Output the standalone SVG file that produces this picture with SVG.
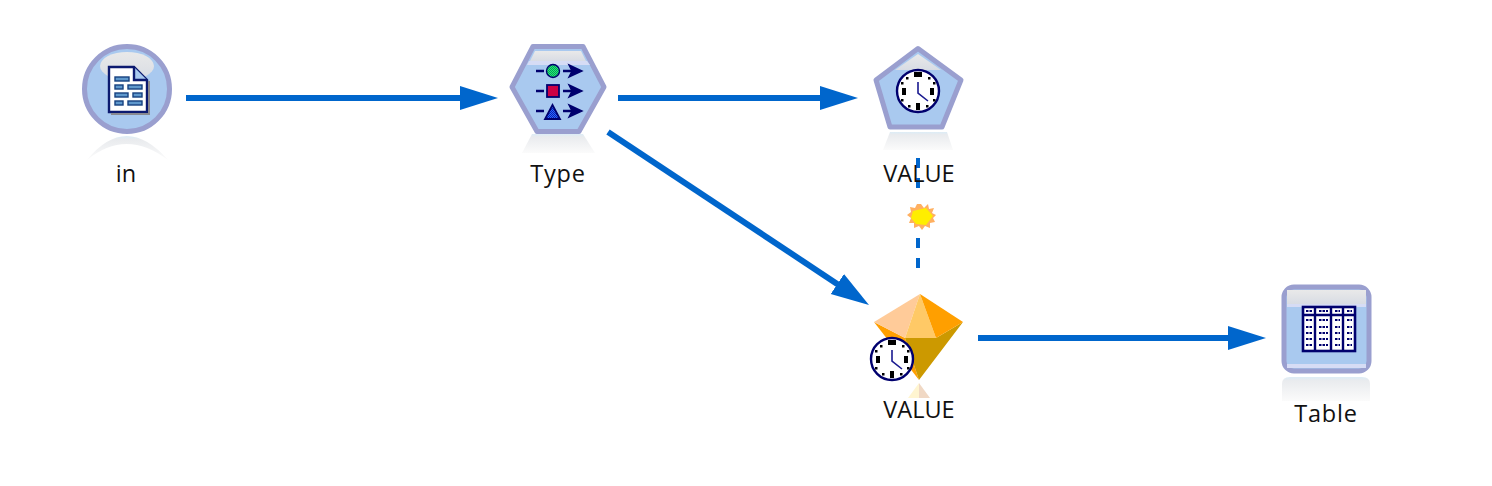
<svg xmlns="http://www.w3.org/2000/svg" xmlns:xlink="http://www.w3.org/1999/xlink" width="1492" height="486" viewBox="0 0 1492 486">
<style>
text{font-family:"Open Sans","Noto Sans","DejaVu Sans",sans-serif;font-size:23.5px;fill:#111;text-anchor:middle}
.wide{letter-spacing:.8px}
.edge{fill:none;stroke:#0066cc;stroke-width:6}
.dash{fill:none;stroke:#0066cc;stroke-width:4;stroke-dasharray:10 10 10 50 10 10}
.body{fill:#a9c9ef;stroke:#9a9fcf;stroke-width:5;stroke-linejoin:round}
.ink{fill:#00006e;stroke:#00006e;stroke-width:1.4}
.ic{stroke:#00006e;stroke-width:2.6;fill:none}
.mark{stroke:#00006e;stroke-width:2}
</style>
<defs>
<marker id="arrow" markerUnits="userSpaceOnUse" markerWidth="40" markerHeight="26" refX="26" refY="13" orient="auto">
<path d="M0 1L38 13L0 25z" fill="#0066cc"/>
</marker>
<linearGradient id="refl" x1="0" y1="0" x2="0" y2="1">
<stop offset="0" stop-color="#dcecf6"/><stop offset=".15" stop-color="#e9ebee"/><stop offset="1" stop-color="#fbfbfb"/>
</linearGradient>
<linearGradient id="gloss" x1="0" y1="0" x2="0" y2="1">
<stop offset="0" stop-color="#e9e9e9"/><stop offset="1" stop-color="#d8dce4"/>
</linearGradient>
<pattern id="green" width="2" height="2" patternUnits="userSpaceOnUse"><rect width="2" height="2" fill="#22ee77"/><rect width="1" height="1" fill="#089a55"/><rect x="1" y="1" width="1" height="1" fill="#089a55"/></pattern>
<pattern id="blue" width="2" height="2" patternUnits="userSpaceOnUse"><rect width="2" height="2" fill="#2a66ff"/><rect width="1" height="1" fill="#0a20b0"/><rect x="1" y="1" width="1" height="1" fill="#0a20b0"/></pattern>
<g id="clock">
<circle r="21" fill="#fff" stroke="#00006e" stroke-width="2.4"/>
<g fill="#000">
<rect x="-4" y="-19" width="8" height="5"/><rect x="-2" y="12" width="4" height="7"/>
<rect x="-16" y="-3" width="4" height="7"/><rect x="12" y="-3" width="4" height="7"/>
<rect x="-12" y="-14" width="2.5" height="2.5"/><rect x="10" y="-14" width="2.5" height="2.5"/>
<rect x="-17" y="-9" width="2.5" height="2.5"/><rect x="15" y="-9" width="2.5" height="2.5"/>
<rect x="-17" y="8" width="2.5" height="2.5"/><rect x="15" y="8" width="2.5" height="2.5"/>
<rect x="-10" y="14" width="2.5" height="2.5"/><rect x="8" y="14" width="2.5" height="2.5"/>
</g>
<path d="M0 -9V2L10 10" fill="none" stroke="#1a1a90" stroke-width="1.6"/>
</g>
</defs>
<g id="connectors">
<path class="edge" d="M186 98H486" marker-end="url(#arrow)"/>
<path class="edge" d="M618 98H846" marker-end="url(#arrow)"/>
<path class="edge" d="M608 132L859 298.4" marker-end="url(#arrow)"/>
<path class="edge" d="M978 338H1254" marker-end="url(#arrow)"/>
<path class="dash" d="M918 158V268"/>
</g>
<g id="node-in">
<path d="M87 160Q126 112 168 160Q126 128 87 160z" fill="url(#refl)"/>
<circle class="body" cx="127" cy="89" r="42.5"/>
<ellipse cx="127" cy="66" rx="27" ry="14" fill="url(#gloss)"/>
<path d="M109 67H134L147 80V112H109z" fill="#fff" stroke="#0c1a70" stroke-width="2.4"/>
<path d="M134 67V80H147" fill="#a9c9ef" stroke="#0c1a70" stroke-width="2.4"/>
<path d="M111 114H149V81" fill="none" stroke="#8a8a90" stroke-width="2"/>
<g fill="#5f98cc" stroke="#16407f" stroke-width="1.4">
<rect x="115" y="77" width="14" height="4"/><rect x="115" y="85" width="8" height="4"/><rect x="128" y="85" width="14" height="4"/>
<rect x="115" y="93" width="13" height="4"/><rect x="133" y="93" width="9" height="4"/><rect x="115" y="101" width="8" height="4"/><rect x="128" y="101" width="14" height="4"/>
</g>
<text x="126" y="182">in</text>
</g>
<g id="node-type">
<path d="M532 134H583L595 153H522z" fill="url(#refl)"/>
<path class="body" d="M533 46.5H583L604 87L579 131.5H537L512 87z"/>
<path d="M535 51H581L586 61H530z" fill="url(#gloss)"/>
<path d="M529 61H587L590 65H527z" fill="#d6dcf5"/>
<g class="ic">
<path d="M536 71H544M536 91H544M536 111H544"/>
<path d="M563 71H578M563 91H578M563 111H578"/>
</g>
<path class="ink" d="M569 65L582 71L569 77L572 71zM569 85L582 91L569 97L572 91zM569 105L582 111L569 117L572 111z"/>
<circle cx="553" cy="71" r="6.5" fill="url(#green)" stroke="#00006e" stroke-width="1.4"/>
<rect x="547" y="85" width="12" height="12" fill="#cc0044" stroke="#00006e" stroke-width="1.8"/>
<path d="M552.5 105L560 119H545z" fill="url(#blue)" stroke="#00006e" stroke-width="1.8"/>
<text class="wide" x="558" y="182">Type</text>
</g>
<g id="node-value-time">
<path d="M890 132H947L953 150H883z" fill="url(#refl)"/>
<path class="body" d="M918 48.5L961 80L942 127H890L876 80z"/>
<path d="M918 54L941 70H895z" fill="url(#gloss)"/>
<use xlink:href="#clock" href="#clock" x="918" y="91"/>
<text x="919" y="182">VALUE</text>
</g>
<g id="node-star">
<path d="M921 204L924 208L928 204L929 209L934 208L932 213L936 215L933 218L935 222L930 223L930 228L925 226L922 230L919 226L914 228L914 223L909 223L911 218L907 215L911 212L910 207L915 208L917 204z" fill="#ffb060"/>
<path d="M913 211L926 208L933 216L926 225L916 224L911 218z" fill="#ffee00"/>
</g>
<g id="node-value-model">
<path d="M919 383L908 398H919z" fill="#fff5d0"/>
<path d="M919 383L930 398H919z" fill="#f0d8c4"/>
<path d="M874 322L905 338L919 380z" fill="#ff9f00"/>
<path d="M905 338H936L963 322L919 380z" fill="#cc9900"/>
<path d="M920 294L874 322L905 338z" fill="#ffcb99"/>
<path d="M920 294L905 338H936z" fill="#ffc966"/>
<path d="M920 294L963 322L936 338z" fill="#ff9f00"/>
<use xlink:href="#clock" href="#clock" x="892" y="359"/>
<text x="919" y="418">VALUE</text>
</g>
<g id="node-table">
<path d="M1282 384Q1282 377 1290 377H1362Q1370 377 1370 384V401H1282z" fill="url(#refl)"/>
<rect class="body" x="1284" y="287" width="85" height="84" rx="10"/>
<rect x="1287" y="290" width="79" height="14" fill="url(#gloss)"/>
<rect x="1287" y="304" width="79" height="3" fill="#d6dcf5"/>
<rect x="1287" y="364" width="79" height="4" fill="#d6dcf5"/>
<rect x="1303" y="307" width="52" height="44" fill="#fff" stroke="#00006e" stroke-width="2.6"/>
<path d="M1303 315H1355M1315 307V351M1331 307V351M1343 307V351" stroke="#00006e" stroke-width="2.4" fill="none"/>
<path class="mark" stroke-dasharray="2.5 1" d="M1306 311H1312M1319 311H1328M1335 311H1340M1347 311H1352M1306 320H1312M1319 320H1328M1335 320H1340M1347 320H1352M1306 327H1312M1319 327H1328M1335 327H1340M1347 327H1352M1306 333H1312M1319 333H1328M1335 333H1340M1347 333H1352M1306 339H1312M1319 339H1328M1335 339H1340M1347 339H1352M1306 345H1312M1319 345H1328M1335 345H1340M1347 345H1352"/>
<text class="wide" x="1326" y="422">Table</text>
</g>
</svg>
